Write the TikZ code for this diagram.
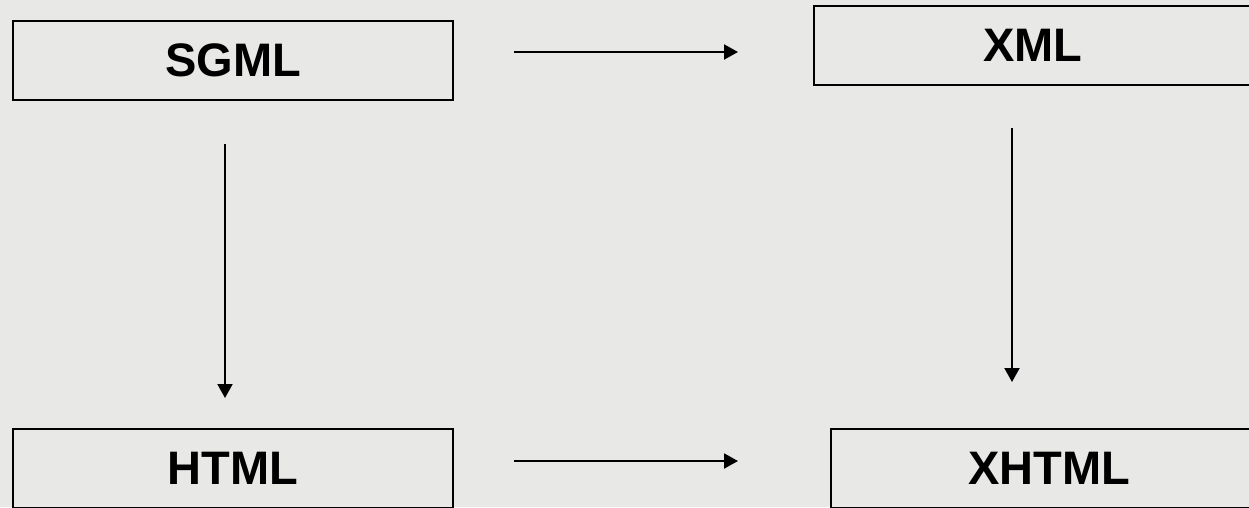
\documentclass[tikz,border=0pt]{standalone}
\usepackage{fontspec}
\setsansfont{Liberation Sans}
\usetikzlibrary{arrows.meta, positioning}
\definecolor{cpaper}{HTML}{E8E8E6}
\tikzset{
  every picture/.style={font=\sffamily, line width=2pt},
  langbox/.style={draw=black, rectangle, minimum width=440pt, minimum height=79pt, inner sep=0pt,
                  font=\sffamily\bfseries\fontsize{47}{56}\selectfont},
  arrow/.style={-{Triangle[length=14pt, width=15pt]}, draw=black, line width=2pt},
}

\begin{document}
\begin{tikzpicture}[x=1pt, y=-1pt]
  \useasboundingbox (0,0) rectangle (1249,507);
  \fill[cpaper] (0,0) rectangle (1249,507);
  \clip (0,0) rectangle (1249,507);
  % the four languages
  \node[langbox] (sgml) at (233,60.5) {SGML};
  \node[langbox, minimum width=438pt] (xml) at (1033,45.5) {XML};
  \node[langbox] (html) at (233,468.5) {HTML};
  \node[langbox, minimum width=436pt] (xhtml) at (1049,468.5) {XHTML};
  % derivations
  \draw[arrow] ([shift={(60,-8.5)}]sgml.east) -- ([shift={(-75,6.5)}]xml.west);
  \draw[arrow] ([shift={(-8,43)}]sgml.south) -- ([shift={(-8,-30)}]html.north);
  \draw[arrow] ([shift={(-21,42)}]xml.south) -- ([shift={(-37,-46)}]xhtml.north);
  \draw[arrow] ([shift={(60,-7.5)}]html.east) -- ([shift={(-92,-7.5)}]xhtml.west);
\end{tikzpicture}
\end{document}
